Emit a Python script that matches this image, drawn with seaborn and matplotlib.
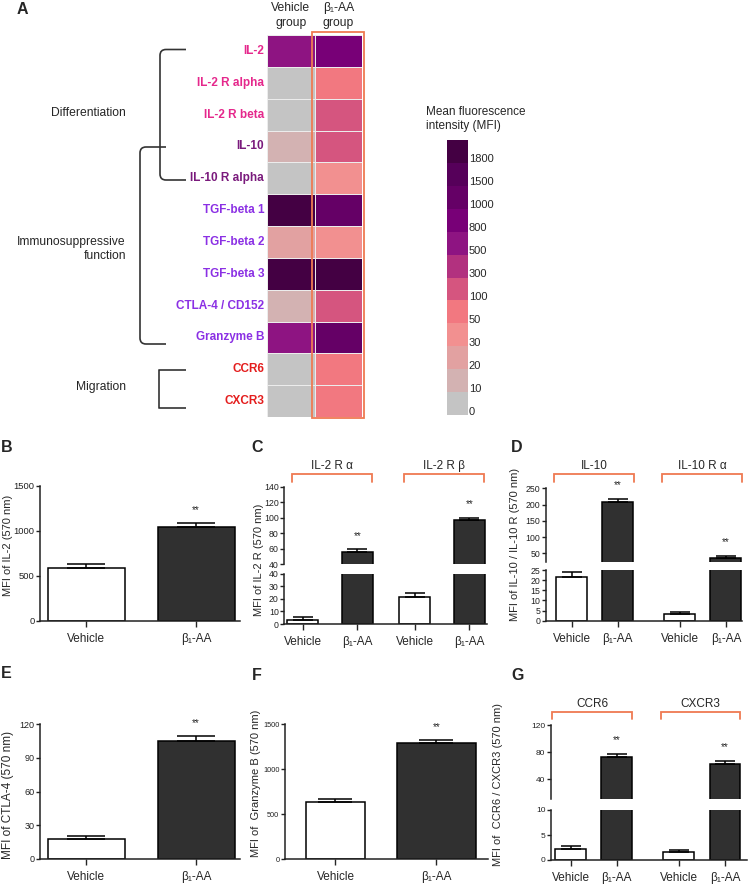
import numpy as np
import pandas as pd
import matplotlib
matplotlib.use("Agg")
import matplotlib.pyplot as plt
import matplotlib.transforms as mtransforms
from matplotlib.colors import ListedColormap
from matplotlib.path import Path
from matplotlib.patches import PathPatch, Rectangle
import seaborn as sns

# ---------------- data ----------------
ROWS = ["IL-2", "IL-2 R alpha", "IL-2 R beta", "IL-10", "IL-10 R alpha",
        "TGF-beta 1", "TGF-beta 2", "TGF-beta 3", "CTLA-4 / CD152",
        "Granzyme B", "CCR6", "CXCR3"]
VEH_MFI = [500, 0, 0, 10, 0, 1800, 20, 1800, 10, 500, 0, 0]
B1_MFI = [800, 50, 100, 100, 30, 1000, 30, 1800, 100, 1000, 50, 50]
ROW_COLORS = ["#E5288C", "#E5288C", "#E5288C", "#7A1A7C", "#7A1A7C",
              "#8B30E4", "#8B30E4", "#8B30E4", "#8B30E4", "#8B30E4",
              "#E41E1E", "#E41E1E"]
LEVELS = [0, 10, 20, 30, 50, 100, 300, 500, 800, 1000, 1500, 1800]
LEVEL_COLORS = ["#C4C4C4", "#D3B2B2", "#E2A1A1", "#F29090", "#F27880",
                "#D5557F", "#B2317F", "#8E1482", "#780077", "#650066",
                "#56005A", "#440043"]
HEAT_COLS = ["Vehicle\ngroup", "β₁-AA\ngroup"]

GROUPS2 = ["Vehicle", "β₁-AA"]
GROUPS4 = ["Vehicle", "β₁-AA", "Vehicle", "β₁-AA"]

IL2_MEAN = [582, 1044]
IL2_SEM = [45, 38]
IL2R_LABELS = ["IL-2 R α", "IL-2 R β"]
IL2R_MEAN = [3.5, 56, 21.5, 96.5]
IL2R_SEM = [2.0, 3.0, 3.1, 3.5]
IL10_LABELS = ["IL-10", "IL-10 R α"]
IL10_MEAN = [21.5, 207, 3.3, 37]
IL10_SEM = [2.6, 11, 1.1, 5.5]
CTLA4_MEAN = [17.5, 105]
CTLA4_SEM = [3.2, 4.0]
GZMB_MEAN = [633, 1292]
GZMB_SEM = [33, 30]
CHEMO_LABELS = ["CCR6", "CXCR3"]
CHEMO_MEAN = [2.2, 73, 1.7, 63]
CHEMO_SEM = [0.6, 4.8, 0.25, 4.0]

# ---------------- style ----------------
sns.set_theme(style="ticks")
plt.rcParams['font.family'] = ['Liberation Sans', 'DejaVu Sans']
plt.rcParams['axes.linewidth'] = 1.1
plt.rcParams['axes.edgecolor'] = '#222222'
PAL = {"Vehicle": "white", "β₁-AA": "#303030"}
ORANGE = "#EF7A52"
LINE = "#333333"

W, H = 749, 884
fig = plt.figure(figsize=(W / 100, H / 100), dpi=100)
fig.patch.set_facecolor("white")


def pax(x0, y0, x1, y1):
    return fig.add_axes([x0 / W, 1 - y1 / H, (x1 - x0) / W, (y1 - y0) / H])


ov = fig.add_axes([0, 0, 1, 1])
ov.set_xlim(0, W)
ov.set_ylim(H, 0)
ov.axis('off')

# ---------------- heatmap (A) ----------------
cmap = ListedColormap(LEVEL_COLORS)
hm_df = pd.DataFrame({HEAT_COLS[0]: [LEVELS.index(v) for v in VEH_MFI],
                      HEAT_COLS[1]: [LEVELS.index(v) for v in B1_MFI]},
                     index=ROWS)
axh = pax(267, 35, 362, 417)
sns.heatmap(hm_df, ax=axh, cmap=cmap, vmin=-0.5, vmax=len(LEVELS) - 0.5,
            cbar=False, linewidths=0.5, linecolor="#ececec")
axh.xaxis.tick_top()
axh.tick_params(axis='x', top=False, bottom=False, length=0, labeltop=True,
                labelbottom=False, pad=4.5, labelsize=8.7)
axh.tick_params(axis='y', left=False, length=0, pad=2, labelsize=8.5)
for lab in axh.get_xticklabels():
    lab.set_rotation(0)
    lab.set_linespacing(1.3)
for lab, c in zip(axh.get_yticklabels(), ROW_COLORS):
    lab.set_color(c)
    lab.set_fontweight('bold')
    lab.set_rotation(0)
axh.set_xlabel('')
axh.set_ylabel('')
axh.add_patch(Rectangle((0.947, -0.094), 1.095, 12.126, fill=False,
                        edgecolor=ORANGE, lw=1.3, clip_on=False))

# colour key
cax = pax(447, 140, 468, 415)
cb = np.arange(len(LEVELS))[::-1].reshape(-1, 1)
sns.heatmap(cb, ax=cax, cmap=cmap, vmin=-0.5, vmax=len(LEVELS) - 0.5,
            cbar=False, xticklabels=False, yticklabels=False)
btr = mtransforms.blended_transform_factory(cax.transAxes, cax.transData)
for i, lv in enumerate(LEVELS):
    cax.text(1.04, len(LEVELS) - i - 0.15, str(lv), transform=btr,
             ha='left', va='center', fontsize=8)
ov.text(426, 119, "Mean fluorescence\nintensity (MFI)", ha='left',
        va='center', fontsize=8.5, linespacing=1.25)


def bracket(x_end, x_v, y_top, y_bot, r):
    verts = [(x_end, y_top), (x_v + r, y_top), (x_v, y_top), (x_v, y_top + r),
             (x_v, y_bot - r), (x_v, y_bot), (x_v + r, y_bot), (x_end, y_bot)]
    codes = [Path.MOVETO, Path.LINETO, Path.CURVE3, Path.CURVE3,
             Path.LINETO, Path.CURVE3, Path.CURVE3, Path.LINETO]
    ov.add_patch(PathPatch(Path(verts, codes), fill=False, edgecolor=LINE,
                           lw=1.2))


bracket(186, 160, 49.5, 180, 6)
bracket(166, 140, 147, 344, 6)
bracket(186, 159, 370, 408, 0.01)
ov.text(126, 113, "Differentiation", ha='right', va='center', fontsize=8.7)
ov.text(126, 249, "Immunosuppressive\nfunction", ha='right', va='center',
        multialignment='right', fontsize=8.7, linespacing=1.2)
ov.text(126, 387, "Migration", ha='right', va='center', fontsize=8.7)

for letter, (x, y) in {"A": (22, 9), "B": (7, 448), "C": (257, 448),
                       "D": (517, 448), "E": (6, 674), "F": (257, 675),
                       "G": (518, 676)}.items():
    ov.text(x, y, letter, ha='center', va='center', fontsize=11.5,
            fontweight='bold')


# ---------------- bar panels ----------------
def draw_bars(ax, pos, groups, means, sems, width, capsize, lo=0):
    df = pd.DataFrame({"pos": pos, "mfi": means, "group": groups})
    sns.barplot(data=df, x="pos", y="mfi", hue="group", palette=PAL,
                dodge=False, native_scale=True, width=width,
                edgecolor="black", linewidth=1.1, errorbar=None,
                legend=False, ax=ax)
    keep = [i for i in range(len(pos)) if means[i] + sems[i] > lo]
    ax.errorbar([pos[i] for i in keep], [means[i] for i in keep],
                yerr=[np.zeros(len(keep)), [sems[i] for i in keep]],
                fmt='none', ecolor='black', elinewidth=1.1, capsize=capsize,
                capthick=1.1, zorder=3)
    ax.set_xlabel('')
    ax.set_ylabel('')


def style(ax, xlim, ylim, yticks, ysize, bottom=True, pos=None, labels=None):
    ax.set_xlim(*xlim)
    ax.set_ylim(*ylim)
    ax.set_yticks(yticks)
    ax.set_yticklabels([str(t) for t in yticks])
    ax.set_facecolor('none')
    sns.despine(ax=ax, bottom=not bottom)
    ax.tick_params(axis='y', direction='out', length=3, width=1.0, pad=1,
                   labelsize=ysize, left=True, colors='#222222')
    if bottom:
        ax.set_xticks(pos)
        ax.set_xticklabels(labels)
        ax.tick_params(axis='x', direction='out', length=4, width=1.0,
                       pad=4.5, labelsize=8.5, bottom=True)
    else:
        ax.set_xticks([])
        ax.tick_params(axis='x', bottom=False, labelbottom=False)


def stars(ax, pos, means, sems, idx):
    for i in idx:
        ax.annotate("**", xy=(pos[i], means[i] + sems[i]), xytext=(0, 6),
                    textcoords='offset points', ha='center', va='bottom',
                    fontsize=7)


def ylab(ax, text, x, y, size=8):
    ax.set_ylabel(text, fontsize=size)
    ax.yaxis.set_label_coords(x, y, transform=ov.transData)
    ax.yaxis.label.set_va('center')


def group_brackets(ax, pos, labels, left, right, y_top, y_tip, y_lab):
    tr = mtransforms.blended_transform_factory(ax.transData, ax.transAxes)
    for k, lab in enumerate(labels):
        x0 = pos[2 * k] - left
        x1 = pos[2 * k + 1] + right
        ax.plot([x0, x0, x1, x1], [y_tip, y_top, y_top, y_tip], transform=tr,
                color=ORANGE, lw=1.3, clip_on=False, solid_joinstyle='miter')
        ax.text((x0 + x1) / 2, y_lab, lab, transform=tr, ha='center',
                va='center', fontsize=8.5)


POS2 = [0, 1]
POS_C = [0, 1, 2.05, 3.05]
POS_DG = [0, 1, 2.35, 3.35]

# B
axB = pax(40, 485.7, 240, 620.7)
draw_bars(axB, POS2, GROUPS2, IL2_MEAN, IL2_SEM, 0.7, 14)
style(axB, (-0.42, 1.4), (0, 1500), [0, 500, 1000, 1500], 6.8,
      pos=POS2, labels=GROUPS2)
stars(axB, POS2, IL2_MEAN, IL2_SEM, [1])
ylab(axB, "MFI of IL-2 (570 nm)", 8.5, 545)

# C (broken axis)
axCu = pax(284.3, 487, 486.7, 564)
axCl = pax(284.3, 573.5, 486.7, 624)
draw_bars(axCu, POS_C, GROUPS4, IL2R_MEAN, IL2R_SEM, 0.57, 7, lo=40)
draw_bars(axCl, POS_C, GROUPS4, IL2R_MEAN, IL2R_SEM, 0.57, 7)
style(axCu, (-0.34, 3.37), (40, 140), [40, 60, 80, 100, 120, 140], 6.3,
      bottom=False)
style(axCl, (-0.34, 3.37), (0, 40), [0, 10, 20, 30, 40], 6.3,
      pos=POS_C, labels=GROUPS4)
stars(axCu, POS_C, IL2R_MEAN, IL2R_SEM, [1, 3])
group_brackets(axCu, POS_C, IL2R_LABELS, 0.2, 0.27, 1.165, 1.069, 1.27)
ylab(axCl, "MFI of IL-2 R (570 nm)", 259, 560)

# D (broken axis)
axDu = pax(546, 488.3, 742, 561.6)
axDl = pax(546, 570, 742, 620.7)
draw_bars(axDu, POS_DG, GROUPS4, IL10_MEAN, IL10_SEM, 0.67, 7, lo=25)
draw_bars(axDl, POS_DG, GROUPS4, IL10_MEAN, IL10_SEM, 0.67, 7)
style(axDu, (-0.56, 3.7), (25, 250), [50, 100, 150, 200, 250], 6.3,
      bottom=False)
style(axDl, (-0.56, 3.7), (0, 25), [0, 5, 10, 15, 20, 25], 6.3,
      pos=POS_DG, labels=GROUPS4)
stars(axDu, POS_DG, IL10_MEAN, IL10_SEM, [1, 3])
group_brackets(axDu, POS_DG, IL10_LABELS, 0.38, 0.35, 1.191, 1.09, 1.30)
ylab(axDl, "MFI of IL-10 / IL-10 R (570 nm)", 515, 544)

# E
axE = pax(40, 724, 240, 859)
draw_bars(axE, POS2, GROUPS2, CTLA4_MEAN, CTLA4_SEM, 0.7, 14)
style(axE, (-0.42, 1.4), (0, 120), [0, 30, 60, 90, 120], 6.5,
      pos=POS2, labels=GROUPS2)
stars(axE, POS2, CTLA4_MEAN, CTLA4_SEM, [1])
ylab(axE, "MFI of CTLA-4 (570 nm)", 8.5, 795, size=8.5)

# F
axF = pax(285, 724.3, 488, 859)
draw_bars(axF, POS2, GROUPS2, GZMB_MEAN, GZMB_SEM, 0.7, 12)
for p, c, w in zip(axF.patches, POS2, [0.58, 0.78]):
    p.set_width(w)
    p.set_x(c - w / 2)
style(axF, (-0.5, 1.51), (0, 1500), [0, 500, 1000, 1500], 5.3,
      pos=POS2, labels=GROUPS2)
stars(axF, POS2, GZMB_MEAN, GZMB_SEM, [1])
ylab(axF, "MFI of  Granzyme B (570 nm)", 256, 783)

# G (broken axis)
axGu = pax(551, 725, 747, 799.3)
axGl = pax(551, 810, 747, 860)
draw_bars(axGu, POS_DG, GROUPS4, CHEMO_MEAN, CHEMO_SEM, 0.67, 7, lo=10)
draw_bars(axGl, POS_DG, GROUPS4, CHEMO_MEAN, CHEMO_SEM, 0.67, 7)
style(axGu, (-0.43, 3.83), (10, 120), [40, 80, 120], 6.0, bottom=False)
style(axGl, (-0.43, 3.83), (0, 10), [0, 5, 10], 6.0,
      pos=POS_DG, labels=GROUPS4)
stars(axGu, POS_DG, CHEMO_MEAN, CHEMO_SEM, [1, 3])
group_brackets(axGu, POS_DG, CHEMO_LABELS, 0.4, 0.33, 1.171, 1.077, 1.28)
ylab(axGl, "MFI of  CCR6 / CXCR3 (570 nm)", 498, 784)

fig.savefig("out.png", dpi=100, facecolor="white")
